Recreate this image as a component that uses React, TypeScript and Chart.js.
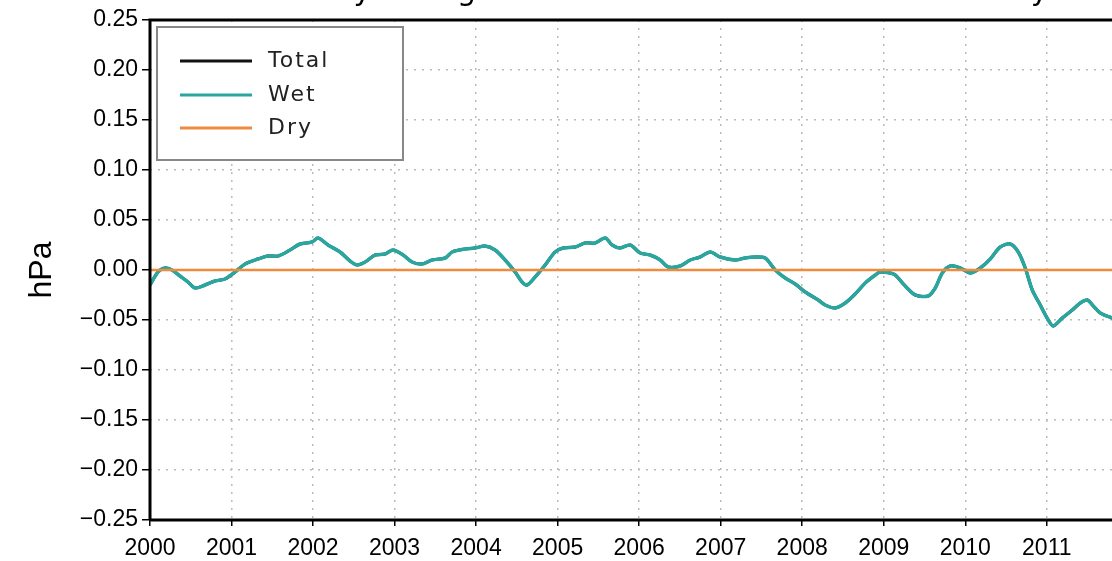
import React, { useEffect, useRef } from "react";
import { Chart, registerables } from "chart.js";
Chart.register(...registerables);

const years = [2000, 2000.098, 2000.184, 2000.27, 2000.368, 2000.466, 2000.552, 2000.675, 2000.798, 2000.92, 2001.043, 2001.166, 2001.325, 2001.448, 2001.571, 2001.718, 2001.84, 2001.988, 2002.061, 2002.184, 2002.331, 2002.454, 2002.54, 2002.638, 2002.761, 2002.883, 2002.982, 2003.104, 2003.215, 2003.337, 2003.46, 2003.62, 2003.706, 2003.865, 2003.988, 2004.11, 2004.233, 2004.356, 2004.479, 2004.564, 2004.626, 2004.724, 2004.847, 2004.969, 2005.067, 2005.215, 2005.337, 2005.46, 2005.583, 2005.669, 2005.767, 2005.89, 2006.012, 2006.135, 2006.258, 2006.356, 2006.503, 2006.626, 2006.748, 2006.871, 2006.994, 2007.178, 2007.301, 2007.423, 2007.546, 2007.669, 2007.791, 2007.914, 2008.037, 2008.196, 2008.282, 2008.405, 2008.528, 2008.65, 2008.773, 2008.896, 2008.957, 2009.08, 2009.141, 2009.264, 2009.387, 2009.546, 2009.632, 2009.718, 2009.816, 2009.939, 2010.061, 2010.184, 2010.307, 2010.429, 2010.552, 2010.65, 2010.736, 2010.822, 2010.92, 2011.018, 2011.08, 2011.19, 2011.313, 2011.411, 2011.497, 2011.571, 2011.656, 2011.804];
const wet = [-0.015, -0.002, 0.002, 0.0, -0.006, -0.012, -0.018, -0.015, -0.011, -0.009, -0.002, 0.006, 0.011, 0.014, 0.014, 0.02, 0.026, 0.028, 0.032, 0.025, 0.018, 0.009, 0.005, 0.008, 0.015, 0.016, 0.02, 0.015, 0.008, 0.006, 0.01, 0.012, 0.018, 0.021, 0.022, 0.024, 0.02, 0.01, -0.002, -0.012, -0.015, -0.007, 0.005, 0.018, 0.022, 0.023, 0.027, 0.027, 0.032, 0.025, 0.022, 0.025, 0.017, 0.015, 0.01, 0.003, 0.004, 0.01, 0.013, 0.018, 0.013, 0.01, 0.012, 0.013, 0.012, 0.0, -0.008, -0.014, -0.022, -0.03, -0.035, -0.038, -0.033, -0.024, -0.013, -0.005, -0.002, -0.003, -0.005, -0.016, -0.025, -0.026, -0.018, -0.003, 0.004, 0.002, -0.003, 0.002, 0.011, 0.023, 0.026, 0.018, 0.002, -0.02, -0.035, -0.05, -0.056, -0.048, -0.04, -0.033, -0.03, -0.036, -0.043, -0.048];
const dry = years.map(() => 0);
const total = wet.map((w, i) => w + dry[i]);
const xTicks = [2000, 2001, 2002, 2003, 2004, 2005, 2006, 2007, 2008, 2009, 2010, 2011];
const seriesNames = ["Total", "Wet", "Dry"];
const seriesColors = ["#111111", "#2aa6a0", "#f08a3c"];

export default function App() {
  const ref = useRef<HTMLCanvasElement>(null);
  useEffect(() => {
    document.body.style.margin = "0";
    const overlay = {
      id: "overlay",
      afterDraw(chart: any) {
        const ctx = chart.ctx;
        ctx.save();
        ctx.fillStyle = "#000";
        ctx.font = "30px 'DejaVu Sans'";
        ctx.textAlign = "center";
        ctx.textBaseline = "bottom";
        (ctx as any).letterSpacing = "3px";
        ctx.fillText("Globally Integrated Surface Pressure Anomaly", 640, 7);
        ctx.fillStyle = "#fff";
        ctx.fillRect(157, 27, 246, 133);
        ctx.strokeStyle = "#888";
        ctx.lineWidth = 2;
        ctx.strokeRect(157, 27, 246, 133);
        ctx.font = "22px 'DejaVu Sans'";
        ctx.textAlign = "left";
        ctx.textBaseline = "middle";
        (ctx as any).letterSpacing = "2px";
        const rows = [61, 95, 128];
        seriesNames.forEach((n, i) => {
          ctx.strokeStyle = seriesColors[i];
          ctx.lineWidth = 3;
          ctx.beginPath();
          ctx.moveTo(180, rows[i]);
          ctx.lineTo(252, rows[i]);
          ctx.stroke();
          ctx.fillStyle = "#222";
          ctx.fillText(n, 268, rows[i]);
        });
        ctx.save();
        ctx.translate(42, 270);
        ctx.rotate(-Math.PI / 2);
        ctx.textAlign = "center";
        ctx.font = "32px 'Liberation Sans'";
        (ctx as any).letterSpacing = "0px";
        ctx.fillStyle = "#000";
        ctx.fillText("hPa", 0, 0);
        ctx.restore();
        const a = chart.chartArea;
        ctx.strokeStyle = "#000";
        ctx.lineWidth = 3;
        ctx.beginPath();
        ctx.moveTo(a.left, a.bottom);
        ctx.lineTo(a.left, a.top);
        ctx.lineTo(a.right + 2, a.top);
        ctx.moveTo(a.left, a.bottom);
        ctx.lineTo(a.right + 2, a.bottom);
        ctx.stroke();
        ctx.restore();
      },
    };
    const mk = (d: number[]) => years.map((x, i) => ({ x, y: d[i] }));
    const chart = new Chart(ref.current!, {
      type: "line",
      data: {
        datasets: [
          { label: "Total", data: mk(total), borderColor: seriesColors[0], borderWidth: 3, pointRadius: 0, tension: 0.3, order: 2 },
          { label: "Wet", data: mk(wet), borderColor: seriesColors[1], borderWidth: 3.5, pointRadius: 0, tension: 0.3, order: 1 },
          { label: "Dry", data: mk(dry), borderColor: seriesColors[2], borderWidth: 2.5, pointRadius: 0, order: 0 },
        ],
      },
      options: {
        animation: false,
        responsive: false,
        layout: { padding: { top: 20, right: 0, left: 0, bottom: 0 } },
        plugins: { legend: { display: false }, tooltip: { enabled: false } },
        scales: {
          x: {
            type: "linear",
            min: 2000,
            max: 2011.8,
            afterBuildTicks: (s: any) => { s.ticks = xTicks.map((v) => ({ value: v })); },
            afterFit: (s: any) => { s.height = 41; },
            ticks: { callback: (v: any) => String(v), color: "#000", font: { family: "Liberation Sans", size: 23 }, maxRotation: 0, padding: 9 },
            grid: { color: "#bbb", lineWidth: 1.5, tickLength: 6, tickColor: "#000" },
            border: { dash: [2, 6], display: false },
          },
          y: {
            min: -0.25,
            max: 0.25,
            ticks: { stepSize: 0.05, callback: (v: any) => Number(v).toFixed(2).replace("-", "\u2212"), color: "#000", font: { family: "Liberation Sans", size: 23 }, padding: 4 },
            afterFit: (s: any) => { s.width = 150; },
            grid: { color: "#bbb", lineWidth: 1.5, tickLength: 8, tickColor: "#000" },
            border: { dash: [2, 6], display: false },
          },
        },
      },
      plugins: [overlay],
    });
    return () => chart.destroy();
  }, []);
  return (
    <div style={{ position: "absolute", left: 0, top: 0, width: 1112, height: 561, background: "#fff" }}>
      <canvas ref={ref} width={1112} height={561} style={{ width: 1112, height: 561 }} />
    </div>
  );
}
